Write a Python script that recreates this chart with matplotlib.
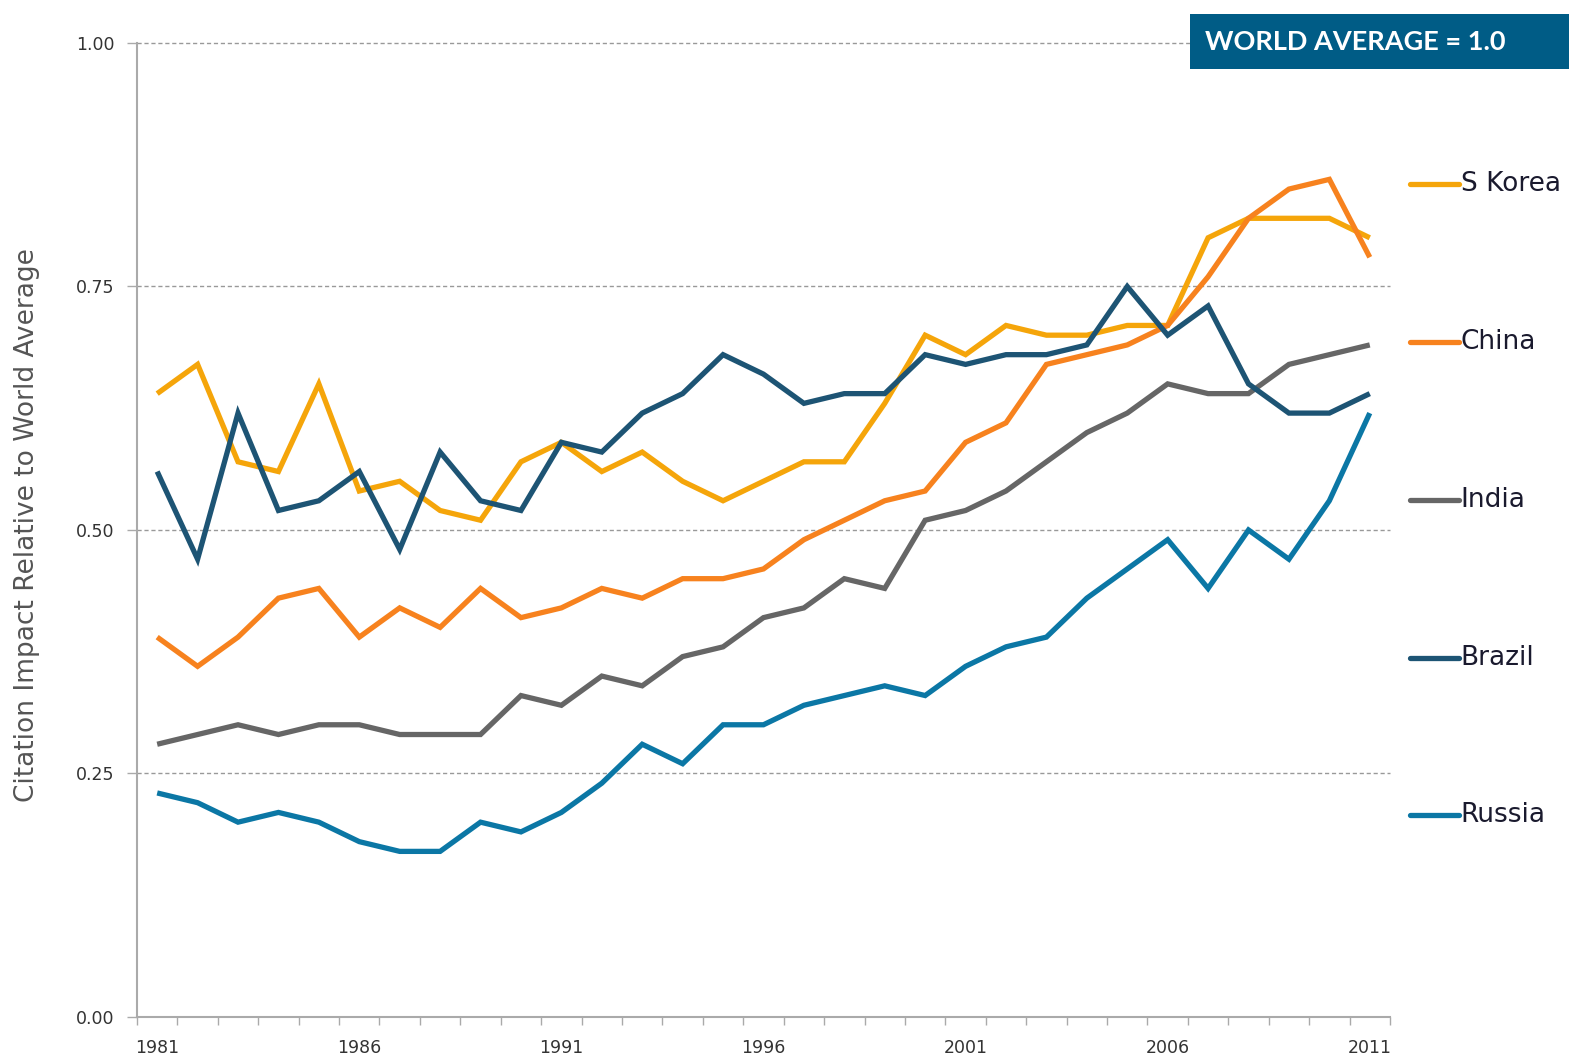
import numpy as np
import matplotlib.pyplot as plt
from matplotlib.patches import Rectangle

# Dữ liệu
years = list(range(1981, 2012))

s_korea = [0.64, 0.67, 0.57, 0.56, 0.65, 0.54, 0.55, 0.52, 0.51, 0.57,
           0.59, 0.56, 0.58, 0.55, 0.53, 0.55, 0.57, 0.57, 0.63, 0.70,
           0.68, 0.71, 0.70, 0.70, 0.71, 0.71, 0.80, 0.82, 0.82, 0.82, 0.80]
china = [0.39, 0.36, 0.39, 0.43, 0.44, 0.39, 0.42, 0.40, 0.44, 0.41,
         0.42, 0.44, 0.43, 0.45, 0.45, 0.46, 0.49, 0.51, 0.53, 0.54,
         0.59, 0.61, 0.67, 0.68, 0.69, 0.71, 0.76, 0.82, 0.85, 0.86, 0.78]
india = [0.28, 0.29, 0.30, 0.29, 0.30, 0.30, 0.29, 0.29, 0.29, 0.33,
         0.32, 0.35, 0.34, 0.37, 0.38, 0.41, 0.42, 0.45, 0.44, 0.51,
         0.52, 0.54, 0.57, 0.60, 0.62, 0.65, 0.64, 0.64, 0.67, 0.68, 0.69]
brazil = [0.56, 0.47, 0.62, 0.52, 0.53, 0.56, 0.48, 0.58, 0.53, 0.52,
          0.59, 0.58, 0.62, 0.64, 0.68, 0.66, 0.63, 0.64, 0.64, 0.68,
          0.67, 0.68, 0.68, 0.69, 0.75, 0.70, 0.73, 0.65, 0.62, 0.62, 0.64]
russia = [0.23, 0.22, 0.20, 0.21, 0.20, 0.18, 0.17, 0.17, 0.20, 0.19,
          0.21, 0.24, 0.28, 0.26, 0.30, 0.30, 0.32, 0.33, 0.34, 0.33,
          0.36, 0.38, 0.39, 0.43, 0.46, 0.49, 0.44, 0.50, 0.47, 0.53, 0.62]

names = ['S Korea', 'China', 'India', 'Brazil', 'Russia']
colors = ['#F5A50A', '#F7821E', '#666666', '#1D5474', '#0B77A5']
series = [s_korea, china, india, brazil, russia]

y_ticks = [0.0, 0.25, 0.5, 0.75, 1.0]
x_labels = [1981, 1986, 1991, 1996, 2001, 2006, 2011]

fig = plt.figure(figsize=(15.69, 10.59), dpi=100)
ax = fig.add_axes([0.0873, 0.0397, 0.7986, 0.9197])

for vals, col in zip(series, colors):
    ax.plot(years, vals, color=col, lw=3.8, solid_joinstyle='miter',
            solid_capstyle='butt', clip_on=False, zorder=3)

ax.set_xlim(1980.5, 2011.5)
ax.set_ylim(0, 1)

# trục y
ax.set_yticks(y_ticks)
ax.set_yticklabels([f'{v:.2f}' for v in y_ticks])
ax.tick_params(axis='y', length=7, width=1, color='#aaaaaa',
               labelsize=12.5, labelcolor='#333333', pad=9)
for v in y_ticks[1:]:
    ax.axhline(v, color='#999999', lw=1, ls=(0, (3, 2)), zorder=1, clip_on=False)

# trục x: nhãn ở giữa năm, vạch ở ranh giới giữa các năm
ax.set_xticks(x_labels)
ax.set_xticklabels([str(y) for y in x_labels])
ax.set_xticks(np.arange(1980.5, 2012, 1.0), minor=True)
ax.tick_params(axis='x', which='major', length=0, labelsize=12.5,
               labelcolor='#333333', pad=16)
ax.tick_params(axis='x', which='minor', length=6, width=1, color='#aaaaaa')

for s in ['top', 'right']:
    ax.spines[s].set_visible(False)
for s in ['left', 'bottom']:
    ax.spines[s].set_color('#aaaaaa')
    ax.spines[s].set_linewidth(1.5)

ax.set_ylabel('Citation Impact Relative to World Average', fontsize=19,
              color='#555555')
ax.yaxis.set_label_coords(-0.077, 0.505)

# chú thích bên phải
label_y = np.linspace(0.855, 0.207, 5)
for name, col, ly in zip(names, colors, label_y):
    ax.plot([2012.0, 2013.2], [ly, ly], color=col, lw=3.8,
            solid_capstyle='round', clip_on=False)
    ax.text(2013.25, ly, name, fontsize=19, color='#1a1a2e',
            va='center', ha='left', clip_on=False)

# hộp "WORLD AVERAGE = 1.0"
fig.patches.append(Rectangle((1190 / 1569, 1 - 69 / 1059), 380 / 1569, 55 / 1059,
                             transform=fig.transFigure, facecolor='#005C86',
                             edgecolor='none', zorder=5))
fig.text(1205 / 1569, 1 - 42 / 1059, 'WORLD AVERAGE = 1.0', color='white',
         fontsize=19.5, fontweight='bold', family='Lato', va='center', ha='left',
         zorder=6)

fig.savefig('out.png', dpi=100, facecolor='white')
